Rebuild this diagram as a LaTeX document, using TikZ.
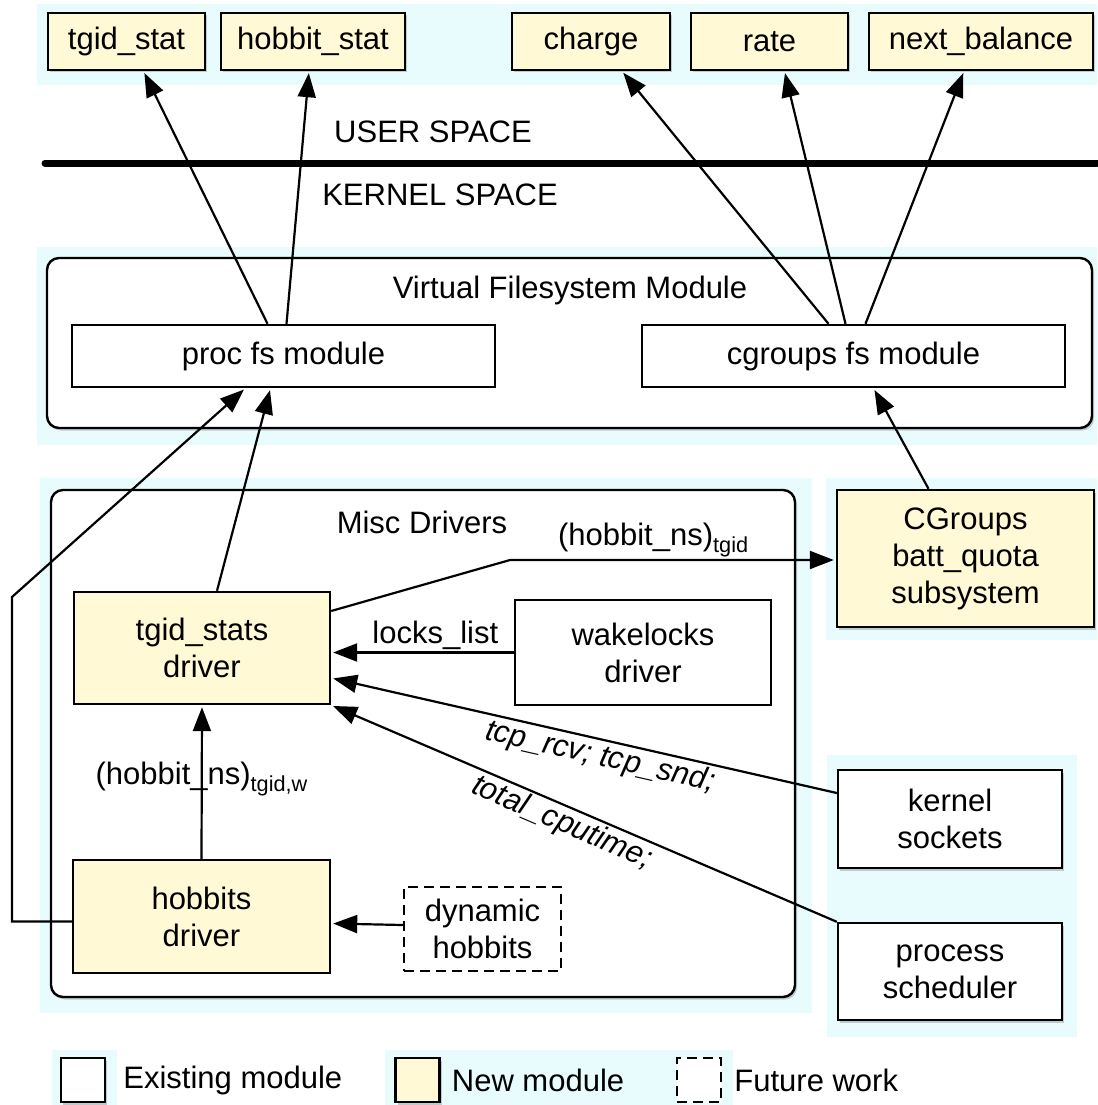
\documentclass[tikz,border=0pt]{standalone}
\usepackage{fontspec}
\setmainfont{Liberation Sans}
\usetikzlibrary{arrows.meta, positioning, shadows, calc}
\definecolor{halo}{RGB}{232,252,254}
\definecolor{newyel}{RGB}{255,249,214}

\begin{document}
\begin{tikzpicture}[x=1pt,y=-1pt,
  font=\fontsize{31}{37}\selectfont,
  mod/.style={rectangle,draw=black,fill=white,line width=2.4pt,align=center,inner sep=2pt},
  newmod/.style={mod,fill=newyel},
  futmod/.style={mod,dash pattern=on 10pt off 6pt},
  shd/.style={drop shadow={shadow xshift=2pt,shadow yshift=-2.5pt,opacity=0.4}},
  grp/.style={rectangle,draw=black,fill=white,line width=2.4pt,rounded corners=12pt,shd},
  glow/.style={fill=halo},
  arr/.style={-{Triangle[length=24pt,width=18pt]},line width=2.2pt,shorten >=2pt},
  lbl/.style={inner sep=2pt},
  itl/.style={inner sep=2pt,font=\fontsize{31}{37}\selectfont\itshape}
]
  \useasboundingbox (0,0) rectangle (1097,1105);
  \fill[glow](37,4) rectangle (1097,85);
  \fill[glow](37,247) rectangle (1097,445);
  \fill[glow](40,478) rectangle (812,1013);
  \fill[glow](826,478) rectangle (1097,640);
  \fill[glow](827,755) rectangle (1077,1037);
  \fill[glow](52,1050) rectangle (117,1105);
  \fill[glow](385,1050) rectangle (733,1105);

  \node[newmod,shd,minimum width=157pt,minimum height=57pt](ts) at (126.5,41.5) {tgid\_stat};
  \node[newmod,shd,minimum width=184pt,minimum height=57pt](hs) at (313,41.5) {hobbit\_stat};
  \node[newmod,shd,minimum width=158pt,minimum height=57pt](chg) at (591,41.5) {charge};
  \node[newmod,shd,minimum width=157pt,minimum height=57pt](rt) at (769.5,41.5) {rate};
  \node[newmod,shd,minimum width=224pt,minimum height=57pt](nb) at (981,41.5) {next\_balance};

  \coordinate(sepl) at (45,163);
  \coordinate(sepr) at (1097,163);
  \draw[line width=7pt,line cap=round](sepl)--(sepr);
  \node(usr) at (433,132) {USER SPACE};
  \node(krn) at (440,195) {KERNEL SPACE};

  \node[grp,minimum width=1045pt,minimum height=170pt](vfs) at (569.5,343) {};
  \node(vfst) at (570,290) {Virtual Filesystem Module};
  \node[mod,minimum width=423pt,minimum height=62pt](pfs) at (283.5,356) {proc fs module};
  \node[mod,minimum width=423pt,minimum height=62pt](cfs) at (853.5,356) {cgroups fs module};

  \node[grp,minimum width=744pt,minimum height=507pt](misc) at (423,743.5) {};
  \node(misct) at (422,522) {Misc Drivers};
  \node[newmod,minimum width=256pt,minimum height=112pt](tgs) at (202,648) {tgid\_stats\\driver};
  \node[mod,minimum width=256pt,minimum height=105pt](wk) at (643,652.5) {wakelocks\\driver};
  \node[newmod,minimum width=257pt,minimum height=113pt](hb) at (201.5,916.5) {hobbits\\driver};
  \node[futmod,minimum width=157pt,minimum height=84pt](dh) at (482.5,929) {dynamic\\hobbits};

  \node[newmod,shd,minimum width=257pt,minimum height=137pt](cg) at (965.5,558.5) {CGroups\\batt\_quota\\subsystem};
  \node[mod,shd,minimum width=224pt,minimum height=98pt](ks) at (950,819) {kernel\\sockets};
  \node[mod,shd,minimum width=224pt,minimum height=97pt](ps) at (950,971.5) {process\\scheduler};

  \node[mod,shd,minimum size=44pt](lgex) at (83,1080) {};
  \node[lbl,right=15pt of lgex](lgext) {Existing module};
  \node[newmod,shd,minimum size=44pt](lgnew) at (417.5,1080) {};
  \node[lbl,right=9pt of lgnew](lgnewt) {New module};
  \node[futmod,minimum size=44pt](lgfut) at (699,1080) {};
  \node[lbl,right=10pt of lgfut](lgfutt) {Future work};

  \draw[arr]([xshift=-16pt]pfs.north)--([xshift=17pt]ts.south);
  \draw[arr]([xshift=3pt]pfs.north)--([xshift=-4pt]hs.south);
  \draw[arr]([xshift=-25pt]cfs.north)--([xshift=31pt]chg.south);
  \draw[arr]([xshift=-8pt]cfs.north)--([xshift=15pt]rt.south);
  \draw[arr]([xshift=12pt]cfs.north)--([xshift=-17pt]nb.south);
  \draw[arr]([xshift=-37pt]cg.north)--([xshift=20pt]cfs.south);
  \draw[arr]([xshift=15pt]tgs.north)--([xshift=-13pt]pfs.south);
  \coordinate(hbk) at (12,597);
  \draw[arr]([yshift=-5pt]hb.west)-|(hbk)--([xshift=-38pt]pfs.south);
  \coordinate(cgk) at (510,560);
  \draw[arr]([yshift=37pt]tgs.east)--(cgk)--node[lbl,above,pos=0.44]{(hobbit\_ns)\textsubscript{tgid}}(cgk-|cg.west);
  \draw[arr](wk.west)--node[lbl,above,pos=0.43]{locks\_list}(wk.west-|tgs.east);
  \draw[arr]([yshift=26pt]ks.west)--node[itl,below,sloped,pos=0.46]{tcp\_rcv; tcp\_snd;}([yshift=-30pt]tgs.east);
  \draw[arr](ps.north west)--node[itl,below,sloped,pos=0.53]{total\_cputime;}(tgs.south east);
  \draw[arr](hb.north)--node[lbl,pos=0.52]{(hobbit\_ns)\textsubscript{tgid,w}}(tgs.south);
  \draw[arr]([yshift=4pt]dh.west)--([yshift=-7pt]hb.east);
\end{tikzpicture}
\end{document}
